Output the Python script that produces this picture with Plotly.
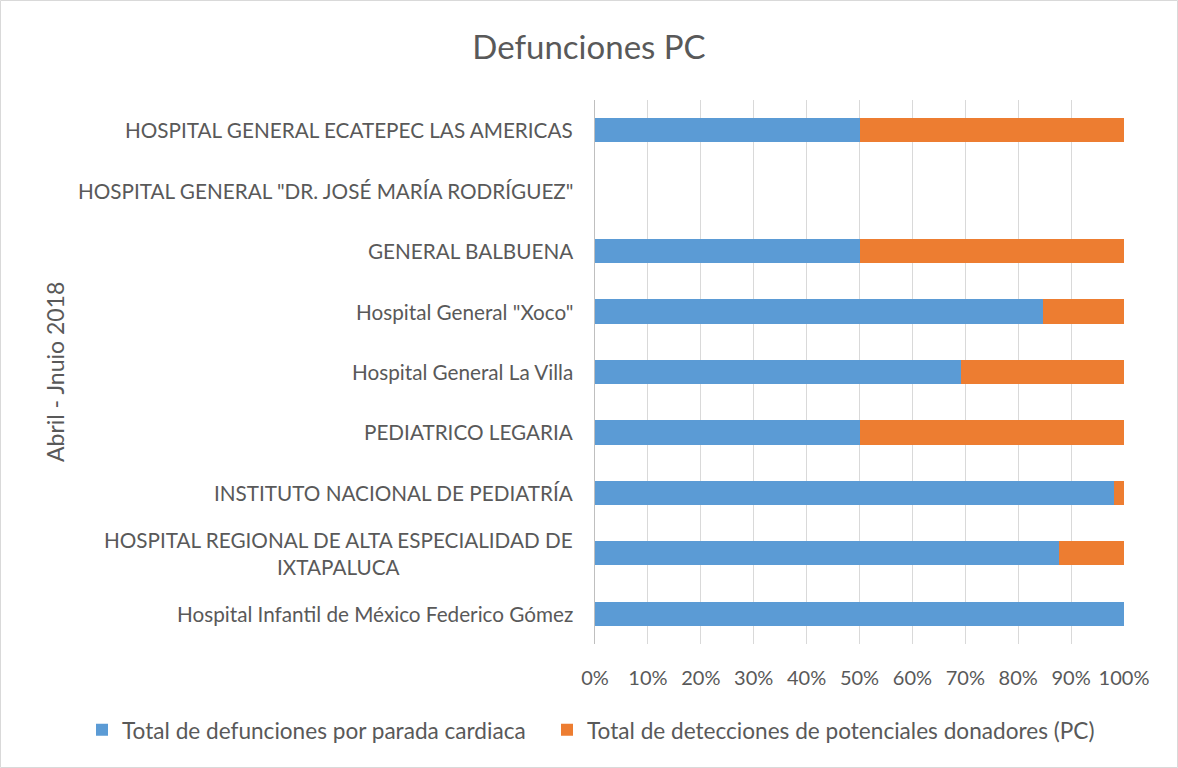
import plotly.graph_objects as go

categories = [
    "HOSPITAL GENERAL ECATEPEC LAS AMERICAS",
    "HOSPITAL GENERAL \"DR. JOSÉ MARÍA RODRÍGUEZ\"",
    "GENERAL BALBUENA",
    "Hospital General \"Xoco\"",
    "Hospital General La Villa",
    "PEDIATRICO LEGARIA",
    "INSTITUTO NACIONAL DE PEDIATRÍA",
    "HOSPITAL REGIONAL DE ALTA ESPECIALIDAD DE<br>IXTAPALUCA",
    "Hospital Infantil de México Federico Gómez",
]
defunciones_pct = [50.0, 0.0, 50.0, 84.6, 69.2, 50.0, 98.2, 87.7, 100.0]
detecciones_pct = [50.0, 0.0, 50.0, 15.4, 30.8, 50.0, 1.8, 12.3, 0.0]
series_names = ["Total de defunciones por parada cardiaca",
                "Total de detecciones de potenciales donadores (PC)"]
tick_vals = [0, 10, 20, 30, 40, 50, 60, 70, 80, 90, 100]
tick_text = [f"{v}%" for v in tick_vals]

FONT = "Lato"
GREY = "#595959"

fig = go.Figure()
fig.add_trace(go.Bar(y=categories, x=defunciones_pct, orientation="h", legend="legend",
                     name=series_names[0], marker=dict(color="#5B9BD5", line=dict(width=0))))
fig.add_trace(go.Bar(y=categories, x=detecciones_pct, orientation="h", legend="legend2",
                     name=series_names[1], marker=dict(color="#ED7D31", line=dict(width=0))))

for c in categories:
    fig.add_annotation(x=0, xref="paper", y=c, yref="y", text=c, showarrow=False,
                       xanchor="right", xshift=-20, align="center",
                       font=dict(family=FONT, size=20.7, color=GREY))

W, H = 1178, 768
L, R, T, B = 595, 54, 100, 124
pw, ph = W - L - R, H - T - B
fig.add_shape(type="rect", xref="paper", yref="paper",
              x0=-(L - 0.5) / pw, x1=(W - L - 0.5) / pw,
              y0=-(B - 0.5) / ph, y1=(H - B - 0.5) / ph,
              line=dict(color="#d9d9d9", width=1), fillcolor="rgba(0,0,0,0)", layer="below")

legend_common = dict(orientation="h", xref="container", xanchor="left",
                     y=(H - 730) / H, yref="container", yanchor="middle",
                     font=dict(family=FONT, size=22.6, color=GREY),
                     itemwidth=30, bgcolor="rgba(0,0,0,0)")

fig.update_layout(
    width=W, height=H,
    barmode="stack", bargap=0.6,
    margin=dict(l=L, r=R, t=T, b=B, autoexpand=False),
    paper_bgcolor="white", plot_bgcolor="white",
    font=dict(family=FONT, color=GREY),
    title=dict(text="Defunciones PC", x=0.5, xref="container", xanchor="center",
               y=1 - 47 / H, yanchor="middle", yref="container",
               font=dict(family=FONT, size=33, color=GREY)),
    xaxis=dict(range=[0, 100], tickvals=tick_vals, ticktext=tick_text,
               showgrid=True, gridcolor="#d9d9d9", gridwidth=1, zeroline=False,
               showline=False, ticks="", tickfont=dict(family=FONT, size=20, color=GREY),
               ticklabelstandoff=20, fixedrange=True),
    yaxis=dict(autorange="reversed", showticklabels=False, showgrid=False,
               showline=True, linecolor="#bfbfbf", linewidth=1, ticks="", fixedrange=True),
    legend=dict(x=82 / W, **legend_common),
    legend2=dict(x=547 / W, **legend_common),
    showlegend=True,
)
fig.add_annotation(x=-(L - 55) / pw, xref="paper", y=0.5, yref="paper", text="Abril - Jnuio 2018",
                   showarrow=False, textangle=-90, xanchor="center", yanchor="middle",
                   font=dict(family=FONT, size=23, color=GREY))

fig.write_html("out.html", config={"displayModeBar": False},
               post_script="document.body.style.margin='0';")
